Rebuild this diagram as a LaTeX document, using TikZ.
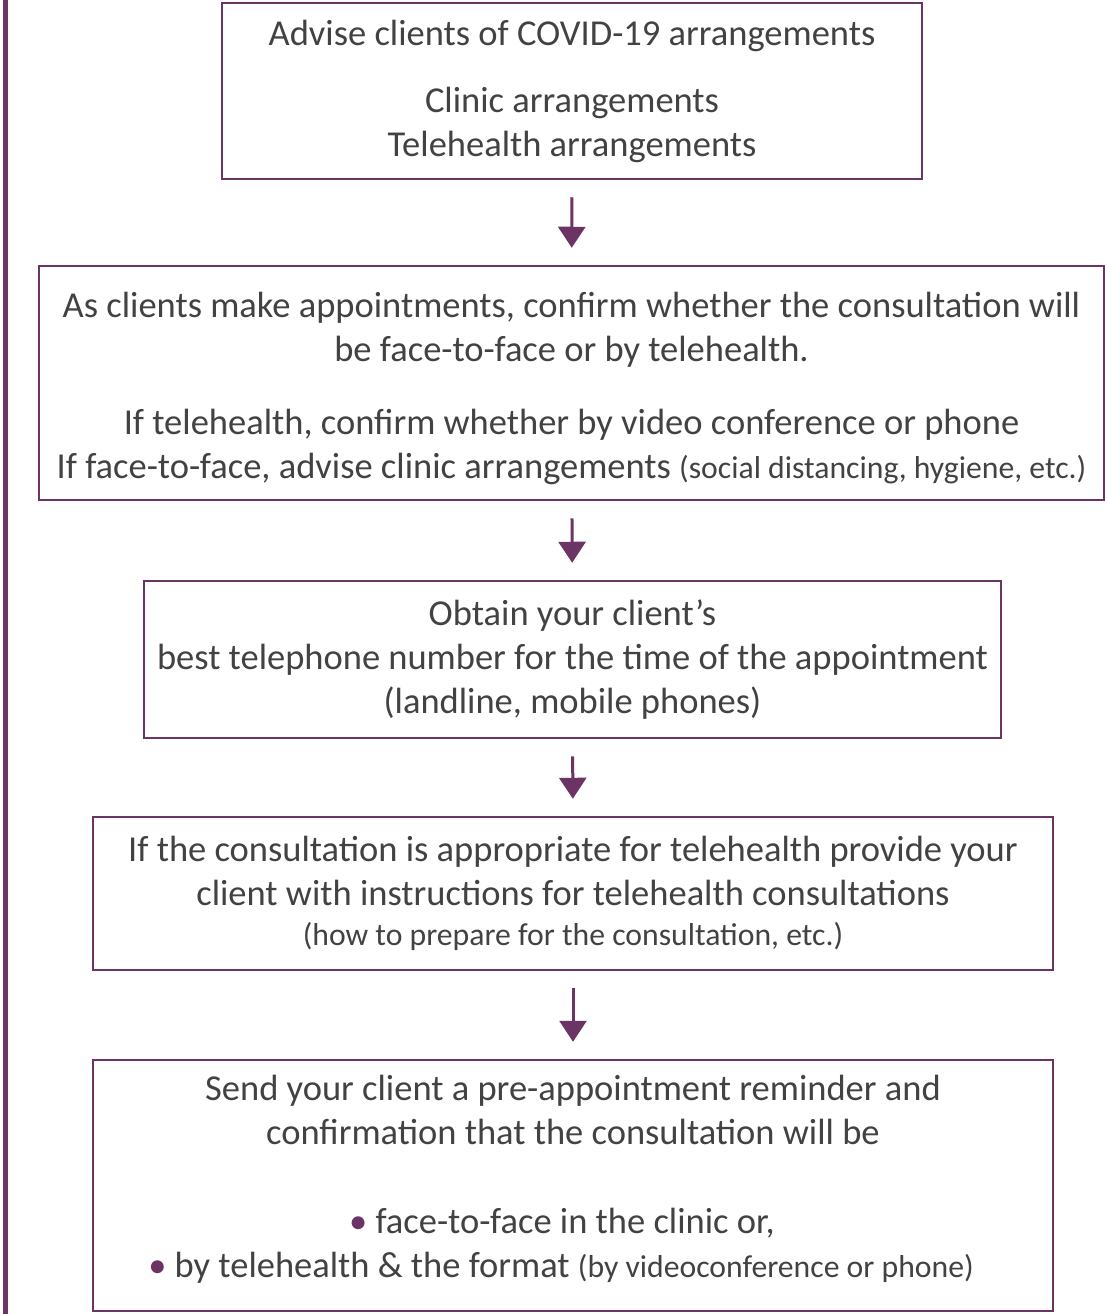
\documentclass[tikz,border=0pt]{standalone}
\usepackage{fontspec}
\setmainfont{Carlito}
\usetikzlibrary{arrows.meta}
\definecolor{plum}{RGB}{107,52,101}
\definecolor{ink}{RGB}{66,66,66}
\newcommand{\smalltxt}{\fontsize{31.7}{40}\selectfont}
\newcommand{\plumdot}{{\color{plum}\textbullet}}
\begin{document}
\begin{tikzpicture}[x=1pt, y=-1pt, font=\fontsize{36.5}{44}\selectfont, text=ink,
  stepbox/.style={draw=plum, line width=2.5pt, align=center, inner sep=0pt},
  flow/.style={draw=plum, line width=3pt, -{Triangle[width=27pt,length=21pt]}, shorten <=17pt, shorten >=17pt}]
\useasboundingbox (0,0) rectangle (1105,1314);
\draw[plum, line width=5pt] (5,0) -- (5,1314);
\node[stepbox, minimum width=700, minimum height=176] (advise) at (572,91)
  {Advise clients of COVID-19 arrangements\\[23pt]
   Clinic arrangements\\
   Telehealth arrangements};
\node[stepbox, minimum width=1065, minimum height=234] (confirm) at (571.5,383)
  {\rule{0pt}{36pt}As clients make appointments, confirm whether the consultation will\\
   be face-to-face or by telehealth.\\[29pt]
   If telehealth, confirm whether by video conference or phone\\
   If face-to-face, advise clinic arrangements {\smalltxt(social distancing, hygiene, etc.)}};
\node[stepbox, minimum width=857, minimum height=157] (phone) at (572.5,659.5)
  {Obtain your client’s\\
   best telephone number for the time of the appointment\\
   (landline, mobile phones)};
\node[stepbox, minimum width=960, minimum height=153] (instruct) at (573,893.5)
  {If the consultation is appropriate for telehealth provide your\\
   client with instructions for telehealth consultations\\[-4pt]
   {\smalltxt(how to prepare for the consultation, etc.)}};
\node[stepbox, minimum width=960, minimum height=251] (remind) at (573,1185.5)
  {Send your client a pre-appointment reminder and\\
   confirmation that the consultation will be\\[45pt]
   \plumdot\ face-to-face in the clinic or,\rule{22pt}{0pt}\\
   \plumdot\ by telehealth \& the format {\smalltxt(by videoconference or phone)}\hspace*{24pt}\rule[-19pt]{0pt}{19pt}};
\draw[flow] (advise) -- (confirm);
\draw[flow] (confirm) -- (phone);
\draw[flow] (phone) -- (instruct);
\draw[flow] (instruct) -- (remind);
\end{tikzpicture}
\end{document}
